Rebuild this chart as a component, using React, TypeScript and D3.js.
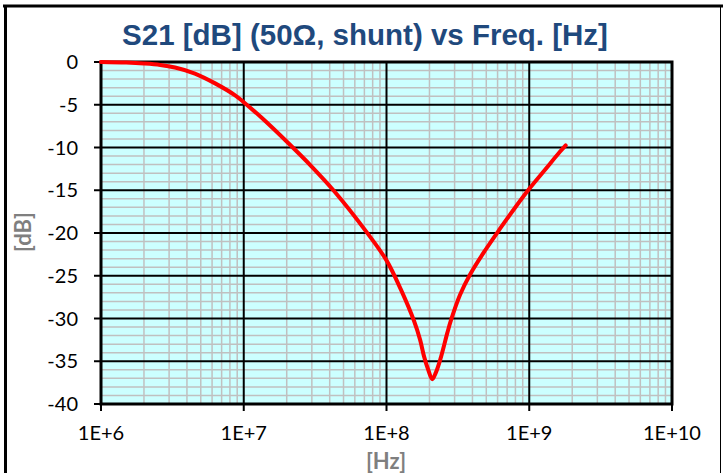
import { useEffect, useRef } from 'react'
import * as d3 from 'd3'

// S21, frequency in Hz, magnitude in dB
const freqHz = [
  1e6, 1.5e6, 2e6, 2.6e6, 3.3e6, 4.55e6, 6.3e6, 8.7e6, 1e7, 1.33e7, 2.04e7, 2.98e7, 4.35e7,
  7.26e7, 1e8, 1.26e8, 1.56e8, 1.72e8, 1.83e8, 1.96e8, 2.09e8, 2.22e8, 2.39e8, 2.67e8,
  2.83e8, 3.27e8, 3.85e8, 4.9e8, 6.24e8, 7.95e8, 1.01e9, 1.29e9, 1.64e9, 1.8e9,
]
const s21dB = [
  0, -0.07, -0.18, -0.35, -0.65, -1.35, -2.5, -3.9, -4.7, -6.5, -9.45, -12.2, -15.2,
  -19.9, -23.2, -26.6, -30.3, -32.5, -34.4, -36.0, -37.1, -36.3, -34.7, -31.65,
  -30.2, -27.25, -24.85, -22.05, -19.5, -17.05, -14.75, -12.6, -10.5, -9.75,
]

const yTicks = [0, -5, -10, -15, -20, -25, -30, -35, -40]
const xTicks = [1e6, 1e7, 1e8, 1e9, 1e10]
const xTickLabels = ['1E+6', '1E+7', '1E+8', '1E+9', '1E+10']

const title = 'S21 [dB] (50Ω, shunt) vs Freq. [Hz]'
const xTitle = '[Hz]'
const yTitle = '[dB]'

export default function App() {
  const ref = useRef<SVGSVGElement | null>(null)

  useEffect(() => {
    const el = ref.current
    if (!el) return
    const svg = d3.select(el)
    svg.selectAll('*').remove()

    const W = 723
    const H = 473
    const m = { left: 101, right: 672, top: 62, bottom: 404 }

    const x = d3.scaleLog().domain([1e6, 1e10]).range([m.left, m.right])
    const y = d3.scaleLinear().domain([-40, 0]).range([m.bottom, m.top])

    svg.append('rect').attr('width', W).attr('height', H).attr('fill', '#fff')

    // outer chart frame
    svg.append('line').attr('x1', 3).attr('x2', W).attr('y1', 6).attr('y2', 6)
      .attr('stroke', '#000').attr('stroke-width', 3)
    svg.append('line').attr('x1', 5.5).attr('x2', 5.5).attr('y1', 5).attr('y2', H)
      .attr('stroke', '#000').attr('stroke-width', 3)
    svg.append('line').attr('x1', 720.5).attr('x2', 720.5).attr('y1', 6).attr('y2', H)
      .attr('stroke', '#000').attr('stroke-width', 1)

    svg.append('text')
      .attr('x', 365).attr('y', 45)
      .attr('text-anchor', 'middle')
      .attr('font-family', '"Liberation Sans", Arial, sans-serif')
      .attr('font-weight', 'bold')
      .attr('font-size', 29.5)
      .attr('fill', '#1F497D')
      .text(title)

    const g = svg.append('g')
    g.append('rect')
      .attr('x', m.left).attr('y', m.top)
      .attr('width', m.right - m.left).attr('height', m.bottom - m.top)
      .attr('fill', '#CCFFFF')

    // minor grid
    const minorY = d3.range(-39, 0).filter(v => v % 5 !== 0)
    const minorX: number[] = []
    for (let e = 6; e < 10; e++) for (let k = 2; k <= 9; k++) minorX.push(k * 10 ** e)

    g.selectAll('line.my').data(minorY).join('line')
      .attr('x1', m.left).attr('x2', m.right)
      .attr('y1', d => y(d)).attr('y2', d => y(d))
      .attr('stroke', '#C0C0C0').attr('stroke-width', 1.5)
    g.selectAll('line.mx').data(minorX).join('line')
      .attr('y1', m.top).attr('y2', m.bottom)
      .attr('x1', d => x(d)).attr('x2', d => x(d))
      .attr('stroke', '#C0C0C0').attr('stroke-width', 1.5)

    // major grid
    g.selectAll('line.gy').data(yTicks).join('line')
      .attr('x1', m.left).attr('x2', m.right)
      .attr('y1', d => y(d)).attr('y2', d => y(d))
      .attr('stroke', '#000').attr('stroke-width', 2)
    g.selectAll('line.gx').data(xTicks).join('line')
      .attr('y1', m.top).attr('y2', m.bottom)
      .attr('x1', d => x(d)).attr('x2', d => x(d))
      .attr('stroke', '#000').attr('stroke-width', 2)

    g.append('rect')
      .attr('x', m.left).attr('y', m.top)
      .attr('width', m.right - m.left).attr('height', m.bottom - m.top)
      .attr('fill', 'none').attr('stroke', '#000').attr('stroke-width', 3)

    // ticks and labels
    const font = 'Lato, Carlito, Calibri, sans-serif'
    g.selectAll('line.ty').data(yTicks).join('line')
      .attr('x1', m.left - 7).attr('x2', m.left)
      .attr('y1', d => y(d)).attr('y2', d => y(d))
      .attr('stroke', '#000').attr('stroke-width', 2)
    g.selectAll('text.ty').data(yTicks).join('text')
      .attr('x', 78).attr('y', d => y(d)).attr('dy', '0.36em')
      .attr('text-anchor', 'end')
      .attr('font-family', font).attr('font-size', 20).attr('fill', '#000')
      .text(d => String(d))
    g.selectAll('line.tx').data(xTicks).join('line')
      .attr('y1', m.bottom).attr('y2', m.bottom + 7)
      .attr('x1', d => x(d)).attr('x2', d => x(d))
      .attr('stroke', '#000').attr('stroke-width', 2)
    g.selectAll('text.tx').data(xTicks).join('text')
      .attr('x', d => x(d)).attr('y', 440)
      .attr('text-anchor', 'middle')
      .attr('font-family', font).attr('font-size', 20).attr('fill', '#000')
      .text((_, i) => xTickLabels[i])

    svg.append('text')
      .attr('x', 386).attr('y', 469)
      .attr('text-anchor', 'middle')
      .attr('font-family', font).attr('font-weight', 'bold')
      .attr('font-size', 22).attr('fill', '#7F7F7F')
      .text(xTitle)
    svg.append('text')
      .attr('transform', 'translate(31,232) rotate(-90)')
      .attr('text-anchor', 'middle')
      .attr('font-family', font).attr('font-weight', 'bold')
      .attr('font-size', 22).attr('fill', '#7F7F7F')
      .text(yTitle)

    // S21 curve
    const pts = freqHz.map((f, i) => [f, s21dB[i]] as [number, number])
    const line = d3.line<[number, number]>()
      .x(d => x(d[0])).y(d => y(d[1]))
      .curve(d3.curveCatmullRom.alpha(0.5))
    g.append('path').datum(pts)
      .attr('d', line)
      .attr('fill', 'none').attr('stroke', '#FF0000')
      .attr('stroke-width', 4).attr('stroke-linecap', 'round')
  }, [])

  return (
    <div style={{ position: 'fixed', left: 0, top: 0 }}>
      <svg ref={ref} width={723} height={473} style={{ display: 'block' }} />
    </div>
  )
}
